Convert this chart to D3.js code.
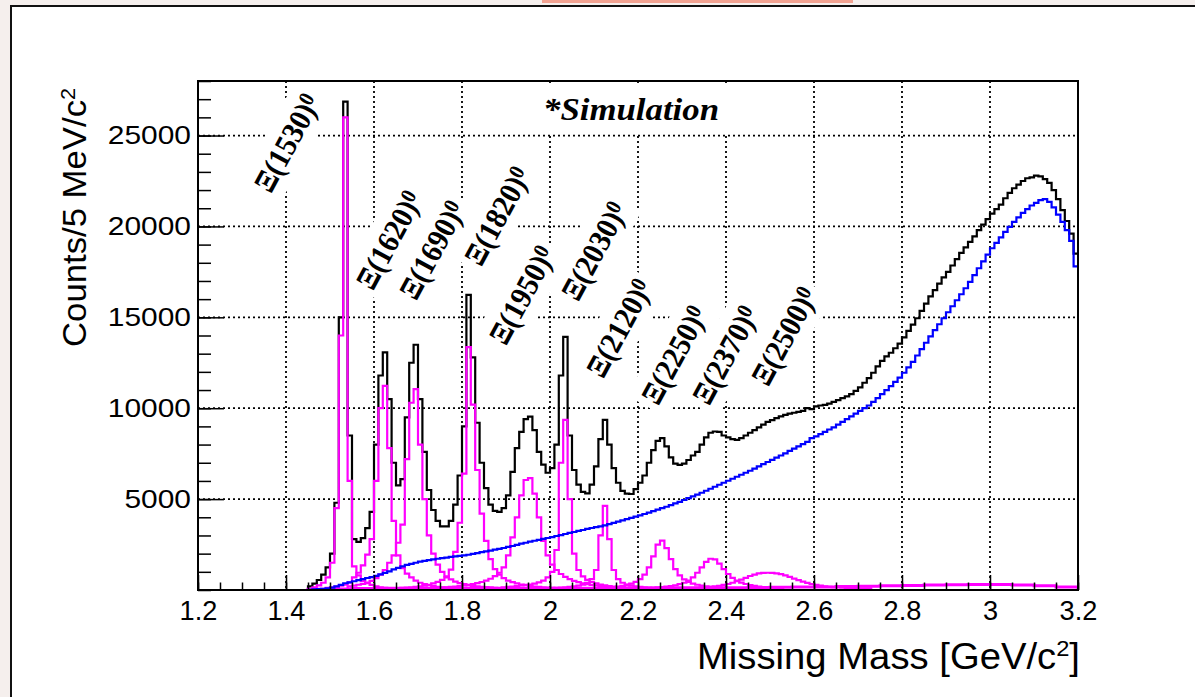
<!DOCTYPE html>
<html>
<head>
<meta charset="utf-8">
<script src="https://cdn.jsdelivr.net/npm/d3@7"></script>
<style>
    body { margin: 0; background: #f5efed; }
    svg { display: block; }
</style>
</head>
<body>
<div id="chart"></div>
<script>
// ---- data (counts per bin, 10 MeV bins unless noted) ----
const binWidth = 0.01;

// total (black), bins from 1.20 to 3.20
const totalStart = 1.20;
const totalCounts = [
    0, 0, 0, 0, 0, 0, 0, 0, 0, 0, 0, 0, 0, 0, 0, 0, 0, 0, 0, 0, 0, 0, 0, 0, 0,
    200, 350, 550, 850, 1250, 2000, 4800, 15000, 26870, 8500,
    2800, 2650, 2850, 3400, 4300, 8000, 11800, 13070, 10500, 7000,
    5750, 6100, 9500, 12500, 13490, 10500, 7600, 5500, 4400, 3800,
    3500, 3500, 3800, 4700, 6300, 9000, 16240, 12800, 9200, 7000,
    5600, 4700, 4350, 4300, 4500, 5200, 6500, 7800, 8700, 9400,
    9540, 8800, 7600, 6900, 6450, 6700, 8000, 11800, 13920, 8500,
    6600, 5800, 5400, 5320, 5800, 6800, 8300, 9360, 8000, 6700,
    5900, 5450, 5300, 5280, 5550, 5900, 6300, 7000, 7700, 8200,
    8350, 7900, 7300, 6950, 6880, 6950, 7150, 7400, 7600, 8000,
    8400, 8650, 8720, 8700, 8500, 8400, 8300, 8260, 8350, 8500,
    8650, 8800, 8950, 9100, 9250, 9350, 9450, 9550, 9630, 9700,
    9750, 9800, 9850, 10000, 9950, 10100, 10150, 10180, 10250, 10350,
    10450, 10550, 10650, 10780, 10950, 11150, 11400, 11650, 11950, 12300,
    12600, 12850, 13050, 13300, 13550, 13900, 14250, 14600, 14950, 15350,
    15750, 16150, 16500, 16850, 17200, 17500, 17850, 18200, 18550, 18850,
    19150, 19450, 19800, 20100, 20400, 20700, 20950, 21200, 21550, 21850,
    22100, 22300, 22500, 22650, 22700, 22800, 22750, 22600, 22400, 22000,
    21500, 20900, 20300, 19600, 18500
];

// background (blue), bins from 1.20 to 3.20
const bkgStart = 1.20;
const bkgCounts = [
    0, 0, 0, 0, 0, 0, 0, 0, 0, 0, 0, 0, 0, 0, 0, 0, 0, 0, 0, 0, 0, 0, 0, 0, 0,
    10, 30, 50, 70, 95, 130, 200, 280, 370, 420,
    480, 540, 600, 660, 710, 780, 860, 940, 1030, 1130,
    1220, 1300, 1380, 1440, 1500, 1560, 1600, 1640, 1680, 1720,
    1750, 1780, 1820, 1850, 1880, 1900, 1940, 1990, 2030, 2080,
    2120, 2170, 2220, 2260, 2310, 2370, 2420, 2480, 2550, 2600,
    2660, 2710, 2760, 2810, 2860, 2910, 2970, 3020, 3080, 3140,
    3190, 3250, 3300, 3360, 3410, 3460, 3500, 3560, 3620, 3690,
    3760, 3830, 3900, 3970, 4040, 4110, 4180, 4260, 4340, 4420,
    4500, 4580, 4670, 4760, 4850, 4950, 5050, 5150, 5250, 5350,
    5460, 5570, 5680, 5790, 5900, 6010, 6120, 6230, 6340, 6450,
    6560, 6680, 6800, 6920, 7040, 7160, 7280, 7400, 7520, 7650,
    7780, 7900, 8030, 8150, 8350, 8450, 8580, 8700, 8830, 8950,
    9100, 9250, 9400, 9550, 9700, 9850, 10000, 10150, 10350, 10550,
    10780, 11000, 11220, 11450, 11680, 11950, 12250, 12550, 12900, 13250,
    13600, 13950, 14300, 14620, 14950, 15280, 15610, 15940, 16270, 16600,
    16950, 17320, 17700, 18080, 18450, 18800, 19100, 19400, 19700, 19980,
    20250, 20500, 20750, 20950, 21150, 21300, 21450, 21500, 21350, 21050,
    20650, 20250, 19800, 19200, 17800
];

// resonance contributions (magenta), each with the low edge of its first bin
const xi1530Start = 1.46;
const xi1530Counts = [150, 250, 400, 700, 1500, 4500, 14000, 26000, 6000, 1300, 800, 500, 380, 280, 200, 150, 120, 100, 80, 60, 50, 40, 30];
const xi1620Start = 1.49;
const xi1620Counts = [120, 150, 190, 240, 300, 420, 700, 950, 1350, 1950, 2800, 6000, 10000, 11230, 7800, 3800, 1900, 1200, 900, 700, 520, 400, 320, 260, 210, 180, 150, 130, 110, 95, 85, 75];
const xi1690Start = 1.54;
const xi1690Counts = [200, 240, 290, 340, 410, 500, 650, 850, 1100, 1500, 1900, 2600, 3600, 7200, 10300, 11050, 8000, 5000, 3000, 2000, 1400, 1000, 750, 580, 460, 380, 320, 270, 230, 200, 175, 155, 140, 125];
const xi1820Start = 1.64;
const xi1820Counts = [90, 100, 115, 130, 150, 170, 200, 240, 290, 360, 450, 560, 700, 1120, 2100, 3700, 6400, 13360, 10200, 6600, 4200, 2700, 1700, 1150, 850, 650, 520, 430, 360, 300, 260, 220, 190, 170, 150, 130, 120, 110, 100];
const xi1950Start = 1.70;
const xi1950Counts = [80, 90, 100, 110, 120, 130, 150, 170, 190, 220, 250, 290, 330, 380, 440, 520, 620, 760, 950, 1250, 1900, 2900, 4000, 5200, 6050, 6150, 5300, 4000, 2700, 1900, 1400, 1100, 880, 720, 600, 500, 430, 370, 320, 280, 250, 220, 200, 180, 160, 145, 130, 120, 110];
const xi2030Start = 1.89;
const xi2030Counts = [150, 170, 190, 220, 250, 280, 300, 350, 420, 520, 700, 1000, 2200, 7000, 9360, 5000, 2000, 1100, 750, 560, 440, 360, 300, 250, 215, 185, 160, 140, 125, 110, 100];
const xi2120Start = 1.97;
const xi2120Counts = [80, 90, 100, 110, 120, 130, 150, 170, 200, 240, 300, 400, 600, 1100, 3000, 4630, 2800, 1100, 600, 400, 300, 240, 200, 170, 150, 130, 115, 100];
const xi2250Start = 2.10;
const xi2250Counts = [100, 110, 120, 140, 160, 190, 230, 280, 350, 450, 600, 850, 1250, 1850, 2500, 2720, 2300, 1700, 1150, 800, 580, 440, 350, 290, 240, 205, 175, 150, 130, 115, 100];
const xi2370Start = 2.21;
const xi2370Counts = [100, 110, 125, 140, 160, 185, 215, 260, 320, 400, 520, 700, 950, 1250, 1550, 1720, 1680, 1450, 1150, 880, 670, 520, 410, 330, 270, 225, 190, 165, 145, 130, 115, 100];
const xi2500Start = 2.30;
const xi2500Counts = [80, 90, 100, 115, 130, 150, 170, 200, 235, 280, 330, 400, 480, 570, 670, 770, 850, 910, 945, 950, 945, 920, 870, 800, 720, 630, 540, 460, 390, 330, 280, 240, 205, 180, 160, 145, 130, 120, 110, 100, 95, 90, 85];

// summed far tails of the resonances (magenta band on the floor), 50 MeV bins
const tailStart = 1.45;
const tailBinWidth = 0.05;
const tailCounts = [40, 60, 80, 90, 100, 100, 100, 100, 100, 100, 100, 100, 100, 110, 110, 110, 120, 120, 130, 130, 140, 150, 160, 170, 190, 210, 230, 250, 270, 290, 300, 300, 280, 240, 160];

const xiNames = ["Ξ(1530)", "Ξ(1620)", "Ξ(1690)", "Ξ(1820)", "Ξ(1950)", "Ξ(2030)", "Ξ(2120)", "Ξ(2250)", "Ξ(2370)", "Ξ(2500)"];

const xTickValues = [1.2, 1.4, 1.6, 1.8, 2, 2.2, 2.4, 2.6, 2.8, 3, 3.2];
const yTickValues = [5000, 10000, 15000, 20000, 25000];

// ---- layout ----
const W = 1195, H = 697;
const frame = {left: 198, right: 1078, top: 81, bottom: 590};

// label anchors in data units (mass, counts): lower-left start of each rotated label
const xiLabelAnchors = [
    [1.366, 21750], [1.598, 16410], [1.696, 15860], [1.844, 17730], [1.900, 13380],
    [2.064, 15800], [2.121, 11560], [2.246, 10080], [2.362, 10080], [2.496, 11120]
];

const svg = d3.select("#chart").append("svg")
    .attr("width", W)
    .attr("height", H);

// slide box
svg.append("rect")
    .attr("x", 11).attr("y", 6)
    .attr("width", W).attr("height", H)
    .attr("fill", "white")
    .attr("stroke", "#111")
    .attr("stroke-width", 2);

svg.append("rect")
    .attr("x", 542).attr("y", 0)
    .attr("width", 311).attr("height", 3)
    .attr("fill", "#f2a392");

const x = d3.scaleLinear().domain([1.2, 3.2]).range([frame.left, frame.right]);
const y = d3.scaleLinear().domain([0, 28000]).range([frame.bottom, frame.top]);

// grid
const grid = svg.append("g")
    .attr("stroke", "#000")
    .attr("stroke-width", 1.8)
    .attr("stroke-dasharray", "2,3");

grid.selectAll(".vgrid")
    .data(xTickValues.slice(1, -1))
    .enter().append("line")
    .attr("x1", d => x(d)).attr("x2", d => x(d))
    .attr("y1", frame.top).attr("y2", frame.bottom);

grid.selectAll(".hgrid")
    .data(yTickValues)
    .enter().append("line")
    .attr("x1", frame.left).attr("x2", frame.right)
    .attr("y1", d => y(d)).attr("y2", d => y(d));

// "*Simulation" with its white box
svg.append("rect")
    .attr("x", 505).attr("y", 83)
    .attr("width", 265).attr("height", 50)
    .attr("fill", "white");

svg.append("text")
    .attr("x", 543).attr("y", 120)
    .attr("font-family", "Liberation Serif")
    .attr("font-weight", "bold")
    .attr("font-style", "italic")
    .attr("font-size", 31)
    .attr("textLength", 176)
    .attr("lengthAdjust", "spacingAndGlyphs")
    .text("*Simulation");

// resonance labels
xiNames.forEach((name, i) => {
    const a = xiLabelAnchors[i];
    const g = svg.append("g")
        .attr("transform", `translate(${x(a[0])},${y(a[1])}) rotate(-61.5)`);
    const box = g.append("rect").attr("fill", "white");
    const t = g.append("text")
        .attr("font-family", "Liberation Serif")
        .attr("font-weight", "bold")
        .attr("font-size", 31)
        .attr("textLength", 106)
        .attr("lengthAdjust", "spacingAndGlyphs")
        .text(name);
    t.append("tspan")
        .attr("dy", "-0.35em")
        .attr("font-size", "0.7em")
        .text("0");
    const bb = t.node().getBBox();
    box.attr("x", bb.x - 5).attr("y", bb.y - 5)
        .attr("width", bb.width + 10).attr("height", bb.height + 10);
});

// histograms
svg.append("clipPath").attr("id", "plotClip")
    .append("rect")
    .attr("x", frame.left).attr("y", frame.top - 2)
    .attr("width", frame.right - frame.left).attr("height", frame.bottom - frame.top + 4);

const plot = svg.append("g").attr("clip-path", "url(#plotClip)");

const line = d3.line().x(d => x(d[0])).y(d => y(d[1]));

function steps(start, width, counts, toFloor) {
    let pts = [];
    if (toFloor) pts.push([start, 0]);
    counts.forEach((c, i) => {
        pts.push([start + i * width, c]);
        pts.push([start + (i + 1) * width, c]);
    });
    if (toFloor) pts.push([start + counts.length * width, 0]);
    return pts;
}

function drawHist(pts, color, w) {
    plot.append("path")
        .attr("d", line(pts))
        .attr("fill", "none")
        .attr("stroke", color)
        .attr("stroke-width", w)
        .attr("stroke-linejoin", "miter");
}

drawHist(steps(totalStart, binWidth, totalCounts, false), "#000", 2.2);

const peaks = [
    [xi1530Start, xi1530Counts], [xi1620Start, xi1620Counts], [xi1690Start, xi1690Counts],
    [xi1820Start, xi1820Counts], [xi1950Start, xi1950Counts], [xi2030Start, xi2030Counts],
    [xi2120Start, xi2120Counts], [xi2250Start, xi2250Counts], [xi2370Start, xi2370Counts],
    [xi2500Start, xi2500Counts]
];
drawHist(steps(tailStart, tailBinWidth, tailCounts, true), "#ff00ff", 3);
peaks.forEach(p => drawHist(steps(p[0], binWidth, p[1], true), "#ff00ff", 2.2));

drawHist(steps(bkgStart, binWidth, bkgCounts, false), "#0000ff", 2.2);

// axes (ROOT style, ticks inside the frame)
function stretch(sel, k) {
    sel.each(function() {
        const len = this.getComputedTextLength();
        d3.select(this).attr("textLength", len * k).attr("lengthAdjust", "spacingAndGlyphs");
    });
}

const xMinor = d3.range(0, 41).map(i => 1.2 + i * 0.05);
const yMinor = d3.range(0, 29).map(i => i * 1000);

svg.append("g")
    .attr("transform", `translate(0,${frame.bottom})`)
    .call(d3.axisBottom(x).tickValues(xMinor).tickSize(-7.5).tickFormat(""))
    .call(g => g.select(".domain").remove())
    .selectAll("line").attr("stroke", "#000").attr("stroke-width", 1.5);

const xAxis = svg.append("g")
    .attr("transform", `translate(0,${frame.bottom})`)
    .call(d3.axisBottom(x).tickValues(xTickValues).tickSize(-15).tickPadding(10).tickFormat(d => String(d)))
    .call(g => g.select(".domain").remove());
xAxis.selectAll("line").attr("stroke", "#000").attr("stroke-width", 1.5);
xAxis.selectAll("text")
    .attr("font-family", "Liberation Sans")
    .attr("font-size", 28)
    .attr("fill", "#000")
    .call(stretch, 0.97);

svg.append("g")
    .attr("transform", `translate(${frame.left},0)`)
    .call(d3.axisLeft(y).tickValues(yMinor).tickSize(-13).tickFormat(""))
    .call(g => g.select(".domain").remove())
    .selectAll("line").attr("stroke", "#000").attr("stroke-width", 1.5);

const yAxis = svg.append("g")
    .attr("transform", `translate(${frame.left},0)`)
    .call(d3.axisLeft(y).tickValues(yTickValues).tickSize(-26).tickPadding(7).tickFormat(d => String(d)))
    .call(g => g.select(".domain").remove());
yAxis.selectAll("line").attr("stroke", "#000").attr("stroke-width", 1.5);
yAxis.selectAll("text")
    .attr("font-family", "Liberation Sans")
    .attr("font-size", 26)
    .attr("fill", "#000")
    .call(stretch, 1.15);

// frame
svg.append("rect")
    .attr("x", frame.left).attr("y", frame.top)
    .attr("width", frame.right - frame.left).attr("height", frame.bottom - frame.top)
    .attr("fill", "none")
    .attr("stroke", "#000")
    .attr("stroke-width", 2);

// axis titles
const xTitle = svg.append("text")
    .attr("x", 1080).attr("y", 669)
    .attr("text-anchor", "end")
    .attr("font-family", "Liberation Sans")
    .attr("font-size", 37)
    .attr("textLength", 383)
    .attr("lengthAdjust", "spacingAndGlyphs")
    .text("Missing Mass [GeV/c");
xTitle.append("tspan").attr("dy", "-0.55em").attr("font-size", "0.62em").text("2");
xTitle.append("tspan").attr("dy", "0.34em").text("]");

const yTitle = svg.append("text")
    .attr("transform", "translate(86,347) rotate(-90)")
    .attr("font-family", "Liberation Sans")
    .attr("font-size", 33)
    .attr("textLength", 259)
    .attr("lengthAdjust", "spacingAndGlyphs")
    .text("Counts/5 MeV/c");
yTitle.append("tspan").attr("dy", "-0.55em").attr("font-size", "0.62em").text("2");
</script>
</body>
</html>
